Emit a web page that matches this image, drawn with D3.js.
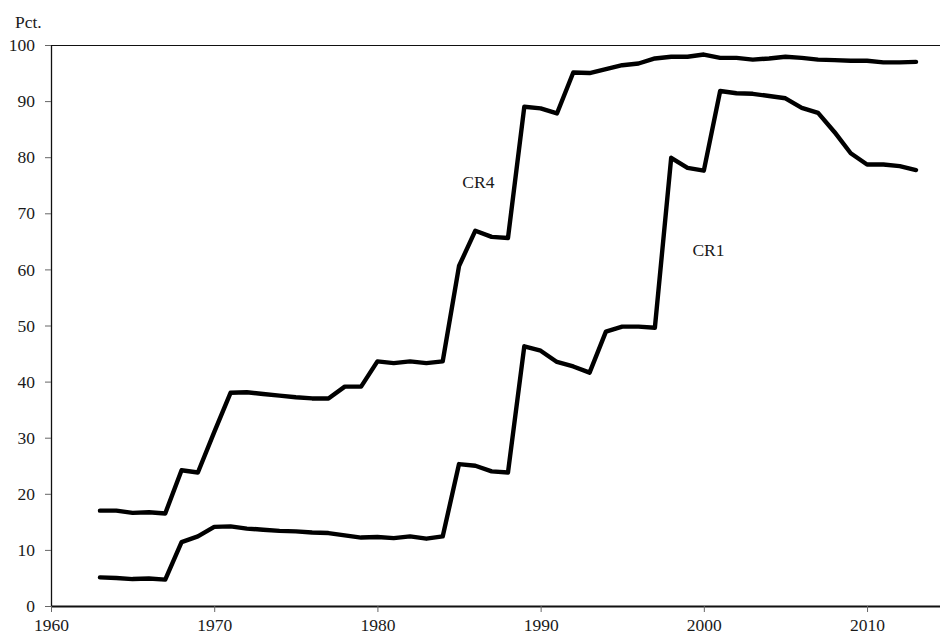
<!DOCTYPE html>
<html>
<head>
<meta charset="utf-8">
<script src="https://cdn.jsdelivr.net/npm/d3@7"></script>
<style>
  body { margin: 0; background: #fff; }
  svg text { font-family: "Liberation Serif", "Times New Roman", serif; fill: #1a1a1a; }
</style>
</head>
<body>
<svg id="chart" width="940" height="636"></svg>
<script>
// Define constants
const width = 940;
const height = 636;
const plotLeft = 51;
const plotTop = 45;
const plotBottom = 606;
const fontSize = "17.5px";

// Data
const years = d3.range(1963, 2014);
const cr1 = [
  5.1, 5.0, 4.8, 4.9, 4.7,
  11.4, 12.4, 14.1, 14.2, 13.8, 13.6, 13.4, 13.3, 13.1, 13.0,
  12.6, 12.2, 12.3, 12.1, 12.4, 12.0, 12.4, 25.3, 25.0, 24.0,
  23.8, 46.3, 45.5, 43.5, 42.7, 41.6, 48.9, 49.8, 49.8, 49.6,
  79.9, 78.1, 77.6, 91.8, 91.4, 91.3, 90.9, 90.5, 88.8, 87.9,
  84.5, 80.7, 78.7, 78.7, 78.4, 77.7,
];
const cr4 = [
  17.0, 17.0, 16.6, 16.7, 16.5,
  24.2, 23.8, 31.0, 38.0, 38.1, 37.8, 37.5, 37.2, 37.0, 37.0,
  39.1, 39.1, 43.6, 43.3, 43.6, 43.3, 43.6, 60.6, 66.9, 65.8,
  65.6, 89.0, 88.7, 87.8, 95.1, 95.0, 95.7, 96.4, 96.7, 97.6,
  97.9, 97.9, 98.3, 97.7, 97.7, 97.4, 97.6, 97.9, 97.7, 97.4,
  97.3, 97.2, 97.2, 96.9, 96.9, 97.0,
];
const xTicks = [1960, 1970, 1980, 1990, 2000, 2010];
const yTicks = [0, 10, 20, 30, 40, 50, 60, 70, 80, 90, 100];
const seriesLabels = [
  { name: "CR4", year: 1985.2, value: 74.5 },
  { name: "CR1", year: 1999.3, value: 62.4 },
];

const svg = d3.select("#chart");

const x = d3.scaleLinear().domain([1960, 2014.47]).range([plotLeft, width]);
const y = d3.scaleLinear().domain([0, 100]).range([plotBottom, plotTop]);

// Top frame line
svg
  .append("line")
  .attr("x1", plotLeft)
  .attr("x2", width)
  .attr("y1", plotTop + 0.5)
  .attr("y2", plotTop + 0.5)
  .attr("stroke", "#111")
  .attr("stroke-width", 1.2);

// Y axis
const yAxis = svg
  .append("g")
  .attr("transform", `translate(${plotLeft},0)`)
  .call(d3.axisLeft(y).tickValues(yTicks).tickSize(6).tickPadding(10).tickSizeOuter(0));
yAxis.select(".domain").attr("stroke", "#111").attr("stroke-width", 1.3);
yAxis.selectAll(".tick line").attr("stroke", "#666");
yAxis.selectAll(".tick text").style("font-size", fontSize).attr("fill", "#1a1a1a");

// X axis
const xAxis = svg
  .append("g")
  .attr("transform", `translate(0,${plotBottom})`)
  .call(d3.axisBottom(x).tickValues(xTicks).tickFormat(d3.format("d")).tickSize(6).tickPadding(7).tickSizeOuter(0));
xAxis.select(".domain").attr("stroke", "#111").attr("stroke-width", 2);
xAxis.selectAll(".tick line").attr("stroke", "#666");
xAxis.selectAll(".tick text").style("font-size", fontSize).attr("fill", "#1a1a1a");

// Unit label
svg
  .append("text")
  .attr("x", 15)
  .attr("y", 28)
  .style("font-size", fontSize)
  .text("Pct.");

// Draw lines
const line = d3
  .line()
  .x((d, i) => x(years[i]))
  .y((d) => y(d));

[cr4, cr1].forEach((series) => {
  svg
    .append("path")
    .datum(series)
    .attr("fill", "none")
    .attr("stroke", "#000")
    .attr("stroke-width", 4.4)
    .attr("stroke-linejoin", "round")
    .attr("stroke-linecap", "round")
    .attr("d", line);
});

// Series labels
svg
  .selectAll(".series-label")
  .data(seriesLabels)
  .enter()
  .append("text")
  .attr("class", "series-label")
  .attr("x", (d) => x(d.year))
  .attr("y", (d) => y(d.value))
  .style("font-size", fontSize)
  .text((d) => d.name);
</script>
</body>
</html>
